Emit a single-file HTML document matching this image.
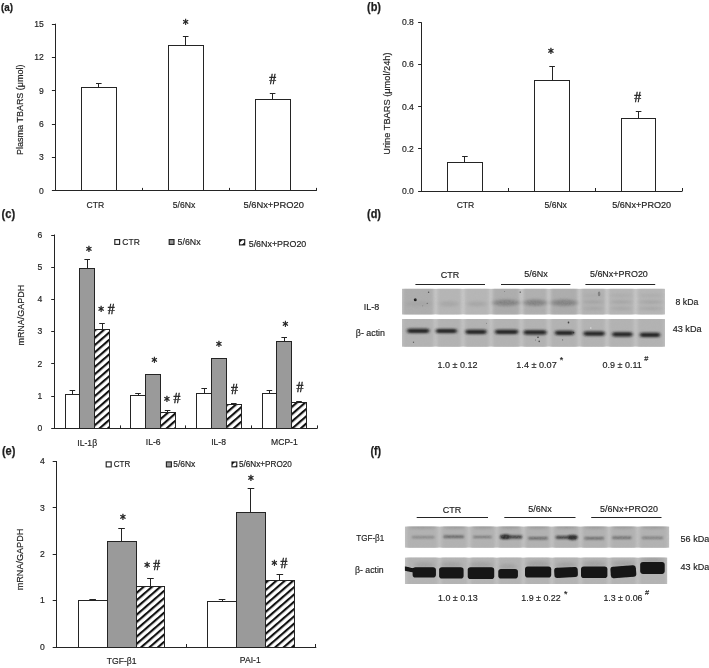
<!DOCTYPE html>
<html lang="en"><head><meta charset="utf-8"><title>Figure</title>
<style>
html,body{margin:0;padding:0;background:#fff;}
body{width:709px;height:668px;overflow:hidden;}
svg{display:block;opacity:0.999;}
svg text{font-family:"Liberation Sans", sans-serif;fill:#1e1e1e;}
</style></head><body>
<svg width="709" height="668" viewBox="0 0 709 668">
<defs>
<pattern id="hatch" width="5.5" height="5.5" patternUnits="userSpaceOnUse" patternTransform="translate(0 3.4) rotate(-41)"><rect width="5.5" height="5.5" fill="#fff"/><line x1="0" y1="1" x2="5.5" y2="1" stroke="#111" stroke-width="2.3"/></pattern>
<filter id="b04" x="-20%" y="-60%" width="140%" height="220%"><feGaussianBlur stdDeviation="0.4"/></filter>
<filter id="b07" x="-5%" y="-60%" width="110%" height="220%"><feGaussianBlur stdDeviation="0.7"/></filter>
<filter id="b09" x="-5%" y="-60%" width="110%" height="220%"><feGaussianBlur stdDeviation="1.1 0.85"/></filter>
<filter id="b09d" x="-5%" y="-60%" width="110%" height="220%"><feGaussianBlur stdDeviation="1.5 0.8"/></filter>
<filter id="b15" x="-5%" y="-60%" width="110%" height="220%"><feGaussianBlur stdDeviation="1.5"/></filter>
<filter id="b20" x="-5%" y="-60%" width="110%" height="220%"><feGaussianBlur stdDeviation="2.2 1.6"/></filter>
<filter id="grain" x="0" y="0" width="100%" height="100%"><feTurbulence type="fractalNoise" baseFrequency="0.55" numOctaves="2" seed="7" result="n"/><feColorMatrix type="matrix" values="0 0 0 0 0.45  0 0 0 0 0.45  0 0 0 0 0.45  0.9 0.9 0.9 0 -0.85"/></filter>
</defs>
<rect width="709" height="668" fill="#fff"/>
<text x="1.00" y="10.60" font-size="11.12" text-anchor="start" font-weight="bold" textLength="12.00" lengthAdjust="spacingAndGlyphs" stroke="#1e1e1e" stroke-width="0.25">(a)</text>
<line x1="55.50" y1="23.70" x2="55.50" y2="190.90" stroke="#242424" stroke-width="1.0"/>
<line x1="54.80" y1="190.50" x2="316.50" y2="190.50" stroke="#242424" stroke-width="1.0"/>
<line x1="51.90" y1="24.50" x2="55.30" y2="24.50" stroke="#242424" stroke-width="1.0"/>
<text x="43.90" y="26.83" font-size="9.29" text-anchor="end" textLength="9.57" lengthAdjust="spacingAndGlyphs" stroke="#1e1e1e" stroke-width="0.18">15</text>
<line x1="51.90" y1="57.50" x2="55.30" y2="57.50" stroke="#242424" stroke-width="1.0"/>
<text x="43.90" y="60.17" font-size="9.29" text-anchor="end" textLength="9.57" lengthAdjust="spacingAndGlyphs" stroke="#1e1e1e" stroke-width="0.18">12</text>
<line x1="51.90" y1="90.50" x2="55.30" y2="90.50" stroke="#242424" stroke-width="1.0"/>
<text x="43.90" y="93.51" font-size="9.29" text-anchor="end" textLength="4.78" lengthAdjust="spacingAndGlyphs" stroke="#1e1e1e" stroke-width="0.18">9</text>
<line x1="51.90" y1="124.50" x2="55.30" y2="124.50" stroke="#242424" stroke-width="1.0"/>
<text x="43.90" y="126.85" font-size="9.29" text-anchor="end" textLength="4.78" lengthAdjust="spacingAndGlyphs" stroke="#1e1e1e" stroke-width="0.18">6</text>
<line x1="51.90" y1="157.50" x2="55.30" y2="157.50" stroke="#242424" stroke-width="1.0"/>
<text x="43.90" y="160.19" font-size="9.29" text-anchor="end" textLength="4.78" lengthAdjust="spacingAndGlyphs" stroke="#1e1e1e" stroke-width="0.18">3</text>
<line x1="51.90" y1="190.50" x2="55.30" y2="190.50" stroke="#242424" stroke-width="1.0"/>
<text x="43.90" y="193.53" font-size="9.29" text-anchor="end" textLength="4.78" lengthAdjust="spacingAndGlyphs" stroke="#1e1e1e" stroke-width="0.18">0</text>
<line x1="142.50" y1="187.90" x2="142.50" y2="190.90" stroke="#242424" stroke-width="1.0"/>
<line x1="229.50" y1="187.90" x2="229.50" y2="190.90" stroke="#242424" stroke-width="1.0"/>
<line x1="316.50" y1="187.90" x2="316.50" y2="190.90" stroke="#242424" stroke-width="1.0"/>
<rect x="81.50" y="87.50" width="35.00" height="103.00" fill="#fff" stroke="#242424" stroke-width="1"/>
<line x1="98.50" y1="83.30" x2="98.50" y2="87.80" stroke="#242424" stroke-width="1.0"/>
<line x1="96.00" y1="83.50" x2="101.60" y2="83.50" stroke="#242424" stroke-width="1.0"/>
<rect x="168.50" y="45.50" width="35.00" height="145.00" fill="#fff" stroke="#242424" stroke-width="1"/>
<line x1="185.50" y1="36.70" x2="185.50" y2="45.80" stroke="#242424" stroke-width="1.0"/>
<line x1="182.90" y1="36.50" x2="188.50" y2="36.50" stroke="#242424" stroke-width="1.0"/>
<rect x="255.50" y="99.50" width="35.00" height="91.00" fill="#fff" stroke="#242424" stroke-width="1"/>
<line x1="272.50" y1="93.80" x2="272.50" y2="99.60" stroke="#242424" stroke-width="1.0"/>
<line x1="269.80" y1="93.50" x2="275.40" y2="93.50" stroke="#242424" stroke-width="1.0"/>
<text x="185.60" y="28.22" font-size="11.60" text-anchor="middle" style='font-family:"DejaVu Sans", sans-serif' stroke="#1e1e1e" stroke-width="0.45">*</text>
<text x="272.60" y="84.48" font-size="13.80" text-anchor="middle" style='font-family:"Liberation Serif", serif' stroke="#1e1e1e" stroke-width="0.4">#</text>
<text x="95.30" y="208.23" font-size="9.29" text-anchor="middle" textLength="17.68" lengthAdjust="spacingAndGlyphs" stroke="#1e1e1e" stroke-width="0.18">CTR</text>
<text x="184.00" y="208.23" font-size="9.29" text-anchor="middle" textLength="22.47" lengthAdjust="spacingAndGlyphs" stroke="#1e1e1e" stroke-width="0.18">5/6Nx</text>
<text x="273.70" y="208.23" font-size="9.29" text-anchor="middle" textLength="60.50" lengthAdjust="spacingAndGlyphs" stroke="#1e1e1e" stroke-width="0.18">5/6Nx+PRO20</text>
<text x="19.60" y="109.70" font-size="8.96" text-anchor="middle" textLength="90.40" lengthAdjust="spacingAndGlyphs" transform="rotate(-90 19.60 109.70)" dy="3" stroke="#1e1e1e" stroke-width="0.18">Plasma TBARS (μmol)</text>
<text x="367.00" y="10.60" font-size="11.88" text-anchor="start" font-weight="bold" textLength="14.00" lengthAdjust="spacingAndGlyphs" stroke="#1e1e1e" stroke-width="0.25">(b)</text>
<line x1="421.50" y1="22.30" x2="421.50" y2="191.00" stroke="#242424" stroke-width="1.0"/>
<line x1="421.00" y1="191.50" x2="682.50" y2="191.50" stroke="#242424" stroke-width="1.0"/>
<line x1="418.10" y1="22.50" x2="421.50" y2="22.50" stroke="#242424" stroke-width="1.0"/>
<text x="413.90" y="25.43" font-size="9.29" text-anchor="end" textLength="11.96" lengthAdjust="spacingAndGlyphs" stroke="#1e1e1e" stroke-width="0.18">0.8</text>
<line x1="418.10" y1="64.50" x2="421.50" y2="64.50" stroke="#242424" stroke-width="1.0"/>
<text x="413.90" y="67.48" font-size="9.29" text-anchor="end" textLength="11.96" lengthAdjust="spacingAndGlyphs" stroke="#1e1e1e" stroke-width="0.18">0.6</text>
<line x1="418.10" y1="106.50" x2="421.50" y2="106.50" stroke="#242424" stroke-width="1.0"/>
<text x="413.90" y="109.53" font-size="9.29" text-anchor="end" textLength="11.96" lengthAdjust="spacingAndGlyphs" stroke="#1e1e1e" stroke-width="0.18">0.4</text>
<line x1="418.10" y1="148.50" x2="421.50" y2="148.50" stroke="#242424" stroke-width="1.0"/>
<text x="413.90" y="151.58" font-size="9.29" text-anchor="end" textLength="11.96" lengthAdjust="spacingAndGlyphs" stroke="#1e1e1e" stroke-width="0.18">0.2</text>
<line x1="418.10" y1="191.50" x2="421.50" y2="191.50" stroke="#242424" stroke-width="1.0"/>
<text x="413.90" y="193.63" font-size="9.29" text-anchor="end" textLength="11.96" lengthAdjust="spacingAndGlyphs" stroke="#1e1e1e" stroke-width="0.18">0.0</text>
<line x1="508.50" y1="188.00" x2="508.50" y2="191.00" stroke="#242424" stroke-width="1.0"/>
<line x1="595.50" y1="188.00" x2="595.50" y2="191.00" stroke="#242424" stroke-width="1.0"/>
<line x1="682.50" y1="188.00" x2="682.50" y2="191.00" stroke="#242424" stroke-width="1.0"/>
<rect x="447.50" y="162.50" width="35.00" height="29.00" fill="#fff" stroke="#242424" stroke-width="1"/>
<line x1="464.50" y1="156.90" x2="464.50" y2="162.50" stroke="#242424" stroke-width="1.0"/>
<line x1="462.10" y1="156.50" x2="467.70" y2="156.50" stroke="#242424" stroke-width="1.0"/>
<rect x="534.50" y="80.50" width="35.00" height="111.00" fill="#fff" stroke="#242424" stroke-width="1"/>
<line x1="552.50" y1="66.40" x2="552.50" y2="80.20" stroke="#242424" stroke-width="1.0"/>
<line x1="549.30" y1="66.50" x2="554.90" y2="66.50" stroke="#242424" stroke-width="1.0"/>
<rect x="621.50" y="118.50" width="34.00" height="73.00" fill="#fff" stroke="#242424" stroke-width="1"/>
<line x1="638.50" y1="111.50" x2="638.50" y2="118.40" stroke="#242424" stroke-width="1.0"/>
<line x1="635.80" y1="111.50" x2="641.40" y2="111.50" stroke="#242424" stroke-width="1.0"/>
<text x="551.00" y="57.22" font-size="11.60" text-anchor="middle" style='font-family:"DejaVu Sans", sans-serif' stroke="#1e1e1e" stroke-width="0.45">*</text>
<text x="637.80" y="102.39" font-size="13.80" text-anchor="middle" style='font-family:"Liberation Serif", serif' stroke="#1e1e1e" stroke-width="0.4">#</text>
<text x="465.50" y="208.23" font-size="9.29" text-anchor="middle" textLength="17.68" lengthAdjust="spacingAndGlyphs" stroke="#1e1e1e" stroke-width="0.18">CTR</text>
<text x="555.70" y="208.23" font-size="9.29" text-anchor="middle" textLength="22.47" lengthAdjust="spacingAndGlyphs" stroke="#1e1e1e" stroke-width="0.18">5/6Nx</text>
<text x="641.70" y="208.23" font-size="9.29" text-anchor="middle" textLength="59.00" lengthAdjust="spacingAndGlyphs" stroke="#1e1e1e" stroke-width="0.18">5/6Nx+PRO20</text>
<text x="387.00" y="103.60" font-size="9.29" text-anchor="middle" textLength="102.40" lengthAdjust="spacingAndGlyphs" transform="rotate(-90 387.00 103.60)" dy="3" stroke="#1e1e1e" stroke-width="0.18">Urine TBARS (μmol/24h)</text>
<text x="1.60" y="218.20" font-size="11.88" text-anchor="start" font-weight="bold" textLength="13.70" lengthAdjust="spacingAndGlyphs" stroke="#1e1e1e" stroke-width="0.25">(c)</text>
<line x1="54.50" y1="234.50" x2="54.50" y2="428.40" stroke="#242424" stroke-width="1.0"/>
<line x1="54.10" y1="428.50" x2="317.50" y2="428.50" stroke="#242424" stroke-width="1.0"/>
<line x1="51.20" y1="235.50" x2="54.60" y2="235.50" stroke="#242424" stroke-width="1.0"/>
<text x="42.40" y="237.63" font-size="9.29" text-anchor="end" textLength="4.78" lengthAdjust="spacingAndGlyphs" stroke="#1e1e1e" stroke-width="0.18">6</text>
<line x1="51.20" y1="267.50" x2="54.60" y2="267.50" stroke="#242424" stroke-width="1.0"/>
<text x="42.40" y="269.86" font-size="9.29" text-anchor="end" textLength="4.78" lengthAdjust="spacingAndGlyphs" stroke="#1e1e1e" stroke-width="0.18">5</text>
<line x1="51.20" y1="299.50" x2="54.60" y2="299.50" stroke="#242424" stroke-width="1.0"/>
<text x="42.40" y="302.09" font-size="9.29" text-anchor="end" textLength="4.78" lengthAdjust="spacingAndGlyphs" stroke="#1e1e1e" stroke-width="0.18">4</text>
<line x1="51.20" y1="331.50" x2="54.60" y2="331.50" stroke="#242424" stroke-width="1.0"/>
<text x="42.40" y="334.33" font-size="9.29" text-anchor="end" textLength="4.78" lengthAdjust="spacingAndGlyphs" stroke="#1e1e1e" stroke-width="0.18">3</text>
<line x1="51.20" y1="363.50" x2="54.60" y2="363.50" stroke="#242424" stroke-width="1.0"/>
<text x="42.40" y="366.56" font-size="9.29" text-anchor="end" textLength="4.78" lengthAdjust="spacingAndGlyphs" stroke="#1e1e1e" stroke-width="0.18">2</text>
<line x1="51.20" y1="396.50" x2="54.60" y2="396.50" stroke="#242424" stroke-width="1.0"/>
<text x="42.40" y="398.79" font-size="9.29" text-anchor="end" textLength="4.78" lengthAdjust="spacingAndGlyphs" stroke="#1e1e1e" stroke-width="0.18">1</text>
<line x1="51.20" y1="428.50" x2="54.60" y2="428.50" stroke="#242424" stroke-width="1.0"/>
<text x="42.40" y="431.03" font-size="9.29" text-anchor="end" textLength="4.78" lengthAdjust="spacingAndGlyphs" stroke="#1e1e1e" stroke-width="0.18">0</text>
<line x1="120.50" y1="425.40" x2="120.50" y2="428.40" stroke="#242424" stroke-width="1.0"/>
<line x1="185.50" y1="425.40" x2="185.50" y2="428.40" stroke="#242424" stroke-width="1.0"/>
<line x1="251.50" y1="425.40" x2="251.50" y2="428.40" stroke="#242424" stroke-width="1.0"/>
<line x1="317.50" y1="425.40" x2="317.50" y2="428.40" stroke="#242424" stroke-width="1.0"/>
<rect x="65.50" y="394.50" width="14.00" height="34.00" fill="#fff" stroke="#242424" stroke-width="1"/>
<line x1="72.50" y1="390.50" x2="72.50" y2="394.00" stroke="#242424" stroke-width="1.0"/>
<line x1="69.60" y1="390.50" x2="75.20" y2="390.50" stroke="#242424" stroke-width="1.0"/>
<rect x="79.50" y="268.50" width="15.00" height="160.00" fill="#9a9a9a" stroke="#242424" stroke-width="1"/>
<line x1="87.50" y1="259.00" x2="87.50" y2="268.60" stroke="#242424" stroke-width="1.0"/>
<line x1="84.40" y1="259.50" x2="90.00" y2="259.50" stroke="#242424" stroke-width="1.0"/>
<rect x="94.50" y="329.50" width="15.00" height="99.00" fill="url(#hatch)" stroke="#242424" stroke-width="1"/>
<line x1="102.50" y1="323.70" x2="102.50" y2="329.20" stroke="#242424" stroke-width="1.0"/>
<line x1="99.20" y1="323.50" x2="104.80" y2="323.50" stroke="#242424" stroke-width="1.0"/>
<rect x="130.50" y="395.50" width="15.00" height="33.00" fill="#fff" stroke="#242424" stroke-width="1"/>
<line x1="138.50" y1="393.80" x2="138.50" y2="395.60" stroke="#242424" stroke-width="1.0"/>
<line x1="135.20" y1="393.50" x2="140.80" y2="393.50" stroke="#242424" stroke-width="1.0"/>
<rect x="145.50" y="374.50" width="15.00" height="54.00" fill="#9a9a9a" stroke="#242424" stroke-width="1"/>
<line x1="152.50" y1="374.00" x2="152.50" y2="374.80" stroke="#242424" stroke-width="1.0"/>
<line x1="150.00" y1="374.50" x2="155.60" y2="374.50" stroke="#242424" stroke-width="1.0"/>
<rect x="160.50" y="412.50" width="15.00" height="16.00" fill="url(#hatch)" stroke="#242424" stroke-width="1"/>
<line x1="167.50" y1="410.50" x2="167.50" y2="412.30" stroke="#242424" stroke-width="1.0"/>
<line x1="164.80" y1="410.50" x2="170.40" y2="410.50" stroke="#242424" stroke-width="1.0"/>
<rect x="196.50" y="393.50" width="15.00" height="35.00" fill="#fff" stroke="#242424" stroke-width="1"/>
<line x1="204.50" y1="388.50" x2="204.50" y2="393.00" stroke="#242424" stroke-width="1.0"/>
<line x1="201.40" y1="388.50" x2="207.00" y2="388.50" stroke="#242424" stroke-width="1.0"/>
<rect x="211.50" y="358.50" width="15.00" height="70.00" fill="#9a9a9a" stroke="#242424" stroke-width="1"/>
<line x1="219.50" y1="358.00" x2="219.50" y2="358.30" stroke="#242424" stroke-width="1.0"/>
<line x1="216.20" y1="358.50" x2="221.80" y2="358.50" stroke="#242424" stroke-width="1.0"/>
<rect x="226.50" y="404.50" width="15.00" height="24.00" fill="url(#hatch)" stroke="#242424" stroke-width="1"/>
<line x1="233.50" y1="403.20" x2="233.50" y2="404.20" stroke="#242424" stroke-width="1.0"/>
<line x1="231.00" y1="403.50" x2="236.60" y2="403.50" stroke="#242424" stroke-width="1.0"/>
<rect x="262.50" y="393.50" width="14.00" height="35.00" fill="#fff" stroke="#242424" stroke-width="1"/>
<line x1="269.50" y1="390.00" x2="269.50" y2="393.30" stroke="#242424" stroke-width="1.0"/>
<line x1="266.60" y1="390.50" x2="272.20" y2="390.50" stroke="#242424" stroke-width="1.0"/>
<rect x="276.50" y="341.50" width="15.00" height="87.00" fill="#9a9a9a" stroke="#242424" stroke-width="1"/>
<line x1="284.50" y1="337.40" x2="284.50" y2="341.00" stroke="#242424" stroke-width="1.0"/>
<line x1="281.40" y1="337.50" x2="287.00" y2="337.50" stroke="#242424" stroke-width="1.0"/>
<rect x="291.50" y="402.50" width="15.00" height="26.00" fill="url(#hatch)" stroke="#242424" stroke-width="1"/>
<line x1="299.50" y1="401.20" x2="299.50" y2="402.20" stroke="#242424" stroke-width="1.0"/>
<line x1="296.20" y1="401.50" x2="301.80" y2="401.50" stroke="#242424" stroke-width="1.0"/>
<text x="89.00" y="254.92" font-size="11.60" text-anchor="middle" style='font-family:"DejaVu Sans", sans-serif' stroke="#1e1e1e" stroke-width="0.45">*</text>
<text x="101.20" y="315.42" font-size="11.60" text-anchor="middle" style='font-family:"DejaVu Sans", sans-serif' stroke="#1e1e1e" stroke-width="0.45">*</text>
<text x="111.10" y="314.29" font-size="13.80" text-anchor="middle" style='font-family:"Liberation Serif", serif' stroke="#1e1e1e" stroke-width="0.4">#</text>
<text x="154.40" y="365.62" font-size="11.60" text-anchor="middle" style='font-family:"DejaVu Sans", sans-serif' stroke="#1e1e1e" stroke-width="0.45">*</text>
<text x="166.80" y="404.62" font-size="11.60" text-anchor="middle" style='font-family:"DejaVu Sans", sans-serif' stroke="#1e1e1e" stroke-width="0.45">*</text>
<text x="177.00" y="403.49" font-size="13.80" text-anchor="middle" style='font-family:"Liberation Serif", serif' stroke="#1e1e1e" stroke-width="0.4">#</text>
<text x="219.00" y="350.42" font-size="11.60" text-anchor="middle" style='font-family:"DejaVu Sans", sans-serif' stroke="#1e1e1e" stroke-width="0.45">*</text>
<text x="234.50" y="394.19" font-size="13.80" text-anchor="middle" style='font-family:"Liberation Serif", serif' stroke="#1e1e1e" stroke-width="0.4">#</text>
<text x="285.50" y="329.82" font-size="11.60" text-anchor="middle" style='font-family:"DejaVu Sans", sans-serif' stroke="#1e1e1e" stroke-width="0.45">*</text>
<text x="300.00" y="392.49" font-size="13.80" text-anchor="middle" style='font-family:"Liberation Serif", serif' stroke="#1e1e1e" stroke-width="0.4">#</text>
<text x="87.20" y="445.93" font-size="9.29" text-anchor="middle" textLength="19.77" lengthAdjust="spacingAndGlyphs" stroke="#1e1e1e" stroke-width="0.18">IL-1β</text>
<text x="153.20" y="444.93" font-size="9.29" text-anchor="middle" textLength="14.82" lengthAdjust="spacingAndGlyphs" stroke="#1e1e1e" stroke-width="0.18">IL-6</text>
<text x="218.60" y="445.13" font-size="9.29" text-anchor="middle" textLength="14.82" lengthAdjust="spacingAndGlyphs" stroke="#1e1e1e" stroke-width="0.18">IL-8</text>
<text x="284.40" y="445.13" font-size="9.29" text-anchor="middle" textLength="26.76" lengthAdjust="spacingAndGlyphs" stroke="#1e1e1e" stroke-width="0.18">MCP-1</text>
<rect x="114.80" y="239.60" width="4.8" height="4.8" fill="#fff" stroke="#242424" stroke-width="1.15"/>
<text x="122.30" y="245.23" font-size="9.29" text-anchor="start" textLength="17.50" lengthAdjust="spacingAndGlyphs" stroke="#1e1e1e" stroke-width="0.18">CTR</text>
<rect x="169.20" y="239.60" width="4.8" height="4.8" fill="#9a9a9a" stroke="#242424" stroke-width="1.15"/>
<text x="177.60" y="245.13" font-size="9.29" text-anchor="start" textLength="23.00" lengthAdjust="spacingAndGlyphs" stroke="#1e1e1e" stroke-width="0.18">5/6Nx</text>
<rect x="239.50" y="239.70" width="5.2" height="5.2" fill="#fff" stroke="#242424" stroke-width="1.15"/>
<path d="M239.50 239.70h3.12L239.50 242.82Z M244.70 244.90h-2.86L244.70 242.04Z" fill="#111"/>
<text x="248.70" y="246.63" font-size="9.29" text-anchor="start" textLength="57.60" lengthAdjust="spacingAndGlyphs" stroke="#1e1e1e" stroke-width="0.18">5/6Nx+PRO20</text>
<text x="21.00" y="315.20" font-size="8.96" text-anchor="middle" textLength="60.80" lengthAdjust="spacingAndGlyphs" transform="rotate(-90 21.00 315.20)" dy="3" stroke="#1e1e1e" stroke-width="0.18">mRNA/GAPDH</text>
<text x="1.90" y="455.30" font-size="11.88" text-anchor="start" font-weight="bold" textLength="13.50" lengthAdjust="spacingAndGlyphs" stroke="#1e1e1e" stroke-width="0.25">(e)</text>
<line x1="56.50" y1="461.00" x2="56.50" y2="647.00" stroke="#242424" stroke-width="1.0"/>
<line x1="55.60" y1="647.50" x2="316.30" y2="647.50" stroke="#242424" stroke-width="1.0"/>
<line x1="52.70" y1="461.50" x2="56.10" y2="461.50" stroke="#242424" stroke-width="1.0"/>
<text x="44.70" y="464.13" font-size="9.29" text-anchor="end" textLength="4.78" lengthAdjust="spacingAndGlyphs" stroke="#1e1e1e" stroke-width="0.18">4</text>
<line x1="52.70" y1="507.50" x2="56.10" y2="507.50" stroke="#242424" stroke-width="1.0"/>
<text x="44.70" y="510.50" font-size="9.29" text-anchor="end" textLength="4.78" lengthAdjust="spacingAndGlyphs" stroke="#1e1e1e" stroke-width="0.18">3</text>
<line x1="52.70" y1="554.50" x2="56.10" y2="554.50" stroke="#242424" stroke-width="1.0"/>
<text x="44.70" y="556.88" font-size="9.29" text-anchor="end" textLength="4.78" lengthAdjust="spacingAndGlyphs" stroke="#1e1e1e" stroke-width="0.18">2</text>
<line x1="52.70" y1="600.50" x2="56.10" y2="600.50" stroke="#242424" stroke-width="1.0"/>
<text x="44.70" y="603.25" font-size="9.29" text-anchor="end" textLength="4.78" lengthAdjust="spacingAndGlyphs" stroke="#1e1e1e" stroke-width="0.18">1</text>
<line x1="52.70" y1="647.50" x2="56.10" y2="647.50" stroke="#242424" stroke-width="1.0"/>
<text x="44.70" y="649.63" font-size="9.29" text-anchor="end" textLength="4.78" lengthAdjust="spacingAndGlyphs" stroke="#1e1e1e" stroke-width="0.18">0</text>
<line x1="186.50" y1="644.00" x2="186.50" y2="647.00" stroke="#242424" stroke-width="1.0"/>
<line x1="315.50" y1="644.00" x2="315.50" y2="647.00" stroke="#242424" stroke-width="1.0"/>
<rect x="78.50" y="600.50" width="29.00" height="47.00" fill="#fff" stroke="#242424" stroke-width="1"/>
<line x1="92.50" y1="599.00" x2="92.50" y2="600.50" stroke="#242424" stroke-width="1.0"/>
<line x1="89.35" y1="599.50" x2="95.95" y2="599.50" stroke="#242424" stroke-width="1.0"/>
<rect x="107.50" y="541.50" width="29.00" height="106.00" fill="#9a9a9a" stroke="#242424" stroke-width="1"/>
<line x1="121.50" y1="528.30" x2="121.50" y2="541.50" stroke="#242424" stroke-width="1.0"/>
<line x1="118.25" y1="528.50" x2="124.85" y2="528.50" stroke="#242424" stroke-width="1.0"/>
<rect x="136.50" y="586.50" width="28.00" height="61.00" fill="url(#hatch)" stroke="#242424" stroke-width="1"/>
<line x1="150.50" y1="578.50" x2="150.50" y2="586.30" stroke="#242424" stroke-width="1.0"/>
<line x1="147.15" y1="578.50" x2="153.75" y2="578.50" stroke="#242424" stroke-width="1.0"/>
<rect x="207.50" y="601.50" width="29.00" height="46.00" fill="#fff" stroke="#242424" stroke-width="1"/>
<line x1="222.50" y1="599.30" x2="222.50" y2="601.00" stroke="#242424" stroke-width="1.0"/>
<line x1="218.75" y1="599.50" x2="225.35" y2="599.50" stroke="#242424" stroke-width="1.0"/>
<rect x="236.50" y="512.50" width="29.00" height="135.00" fill="#9a9a9a" stroke="#242424" stroke-width="1"/>
<line x1="250.50" y1="488.70" x2="250.50" y2="512.00" stroke="#242424" stroke-width="1.0"/>
<line x1="247.65" y1="488.50" x2="254.25" y2="488.50" stroke="#242424" stroke-width="1.0"/>
<rect x="265.50" y="580.50" width="29.00" height="67.00" fill="url(#hatch)" stroke="#242424" stroke-width="1"/>
<line x1="279.50" y1="574.40" x2="279.50" y2="580.50" stroke="#242424" stroke-width="1.0"/>
<line x1="276.55" y1="574.50" x2="283.15" y2="574.50" stroke="#242424" stroke-width="1.0"/>
<text x="122.90" y="523.22" font-size="11.60" text-anchor="middle" style='font-family:"DejaVu Sans", sans-serif' stroke="#1e1e1e" stroke-width="0.45">*</text>
<text x="147.20" y="571.42" font-size="11.60" text-anchor="middle" style='font-family:"DejaVu Sans", sans-serif' stroke="#1e1e1e" stroke-width="0.45">*</text>
<text x="156.60" y="570.28" font-size="13.80" text-anchor="middle" style='font-family:"Liberation Serif", serif' stroke="#1e1e1e" stroke-width="0.4">#</text>
<text x="251.00" y="484.12" font-size="11.60" text-anchor="middle" style='font-family:"DejaVu Sans", sans-serif' stroke="#1e1e1e" stroke-width="0.45">*</text>
<text x="274.30" y="568.82" font-size="11.60" text-anchor="middle" style='font-family:"DejaVu Sans", sans-serif' stroke="#1e1e1e" stroke-width="0.45">*</text>
<text x="284.00" y="567.69" font-size="13.80" text-anchor="middle" style='font-family:"Liberation Serif", serif' stroke="#1e1e1e" stroke-width="0.4">#</text>
<text x="121.60" y="664.33" font-size="9.29" text-anchor="middle" textLength="29.79" lengthAdjust="spacingAndGlyphs" stroke="#1e1e1e" stroke-width="0.18">TGF-β1</text>
<text x="250.30" y="663.33" font-size="9.29" text-anchor="middle" textLength="20.87" lengthAdjust="spacingAndGlyphs" stroke="#1e1e1e" stroke-width="0.18">PAI-1</text>
<rect x="106.20" y="461.90" width="5.0" height="5.0" fill="#fff" stroke="#242424" stroke-width="1.15"/>
<text x="113.70" y="467.39" font-size="8.64" text-anchor="start" textLength="16.50" lengthAdjust="spacingAndGlyphs" stroke="#1e1e1e" stroke-width="0.18">CTR</text>
<rect x="166.40" y="461.90" width="5.0" height="5.0" fill="#9a9a9a" stroke="#242424" stroke-width="1.15"/>
<text x="173.30" y="467.19" font-size="8.64" text-anchor="start" textLength="22.00" lengthAdjust="spacingAndGlyphs" stroke="#1e1e1e" stroke-width="0.18">5/6Nx</text>
<rect x="232.00" y="462.00" width="4.8" height="4.8" fill="#fff" stroke="#242424" stroke-width="1.15"/>
<path d="M232.00 462.00h2.98L232.00 464.98Z M236.80 466.80h-2.16L236.80 464.64Z" fill="#111"/>
<text x="239.00" y="467.19" font-size="8.64" text-anchor="start" textLength="52.90" lengthAdjust="spacingAndGlyphs" stroke="#1e1e1e" stroke-width="0.18">5/6Nx+PRO20</text>
<text x="20.20" y="559.50" font-size="8.96" text-anchor="middle" textLength="61.60" lengthAdjust="spacingAndGlyphs" transform="rotate(-90 20.20 559.50)" dy="3" stroke="#1e1e1e" stroke-width="0.18">mRNA/GAPDH</text>
<text x="367.00" y="218.20" font-size="11.88" text-anchor="start" font-weight="bold" textLength="14.00" lengthAdjust="spacingAndGlyphs" stroke="#1e1e1e" stroke-width="0.25">(d)</text>
<text x="450.00" y="277.98" font-size="9.72" text-anchor="middle" textLength="18.50" lengthAdjust="spacingAndGlyphs" stroke="#1e1e1e" stroke-width="0.18">CTR</text>
<text x="536.00" y="276.68" font-size="9.72" text-anchor="middle" textLength="23.51" lengthAdjust="spacingAndGlyphs" stroke="#1e1e1e" stroke-width="0.18">5/6Nx</text>
<text x="618.90" y="276.68" font-size="9.72" text-anchor="middle" textLength="57.90" lengthAdjust="spacingAndGlyphs" stroke="#1e1e1e" stroke-width="0.18">5/6Nx+PRO20</text>
<line x1="415.40" y1="284.50" x2="485.00" y2="284.50" stroke="#242424" stroke-width="1.1"/>
<line x1="501.00" y1="284.50" x2="570.40" y2="284.50" stroke="#242424" stroke-width="1.1"/>
<line x1="585.40" y1="284.50" x2="655.20" y2="284.50" stroke="#242424" stroke-width="1.1"/>
<clipPath id="cpd1"><rect x="402" y="288.8" width="263.00" height="25.80"/></clipPath>
<g clip-path="url(#cpd1)"><rect x="402" y="288.8" width="263.00" height="25.80" fill="#c9c9c9"/>
<g filter="url(#b15)"><rect x="403.0" y="285.8" width="30.5" height="31.8" rx="0" fill="#adadad" opacity="1"/><rect x="437.5" y="285.8" width="23.5" height="31.8" rx="0" fill="#b6b6b6" opacity="1"/><rect x="465.0" y="285.8" width="24.0" height="31.8" rx="0" fill="#b7b7b7" opacity="1"/><rect x="492.8" y="285.8" width="26.6" height="31.8" rx="0" fill="#adadad" opacity="1"/><rect x="523.4" y="285.8" width="23.4" height="31.8" rx="0" fill="#b0b0b0" opacity="1"/><rect x="550.8" y="285.8" width="26.6" height="31.8" rx="0" fill="#adadad" opacity="1"/><rect x="581.4" y="285.8" width="23.6" height="31.8" rx="0" fill="#b3b3b3" opacity="1"/><rect x="609.0" y="285.8" width="24.6" height="31.8" rx="0" fill="#b6b6b6" opacity="1"/><rect x="637.6" y="285.8" width="26.4" height="31.8" rx="0" fill="#b7b7b7" opacity="1"/></g>
<g filter="url(#b20)"><ellipse cx="418.2" cy="303.8" rx="13.2" ry="2.6" fill="#a2a2a2" opacity="0.8"/><ellipse cx="449.2" cy="303.8" rx="9.8" ry="2.6" fill="#a2a2a2" opacity="0.8"/><ellipse cx="477.0" cy="303.8" rx="10.0" ry="2.6" fill="#a2a2a2" opacity="0.8"/><ellipse cx="506.1" cy="302.8" rx="13.3" ry="3.2" fill="#7c7c7c" opacity="0.95"/><ellipse cx="506.1" cy="310.5" rx="12.3" ry="1.6" fill="#a8a8a8" opacity="0.6"/><ellipse cx="535.1" cy="302.8" rx="11.7" ry="3.2" fill="#7c7c7c" opacity="0.95"/><ellipse cx="535.1" cy="310.5" rx="10.7" ry="1.6" fill="#a8a8a8" opacity="0.6"/><ellipse cx="564.1" cy="302.8" rx="13.3" ry="3.2" fill="#7c7c7c" opacity="0.95"/><ellipse cx="564.1" cy="310.5" rx="12.3" ry="1.6" fill="#a8a8a8" opacity="0.6"/><ellipse cx="593.2" cy="302.0" rx="10.8" ry="1.5" fill="#9a9a9a" opacity="0.8"/><ellipse cx="593.2" cy="308.5" rx="10.8" ry="1.5" fill="#9e9e9e" opacity="0.75"/><ellipse cx="593.2" cy="295.5" rx="10.8" ry="1.6" fill="#a6a6a6" opacity="0.7"/><ellipse cx="621.3" cy="302.0" rx="11.3" ry="1.5" fill="#9a9a9a" opacity="0.8"/><ellipse cx="621.3" cy="308.5" rx="11.3" ry="1.5" fill="#9e9e9e" opacity="0.75"/><ellipse cx="621.3" cy="295.5" rx="11.3" ry="1.6" fill="#a6a6a6" opacity="0.7"/><ellipse cx="650.8" cy="302.0" rx="12.2" ry="1.5" fill="#9a9a9a" opacity="0.8"/><ellipse cx="650.8" cy="308.5" rx="12.2" ry="1.5" fill="#9e9e9e" opacity="0.75"/><ellipse cx="650.8" cy="295.5" rx="12.2" ry="1.6" fill="#a6a6a6" opacity="0.7"/></g>
<g filter="url(#b04)"><ellipse cx="415.3" cy="299.8" rx="1.5" ry="1.5" fill="#1c1c1c" opacity="1"/><ellipse cx="428.6" cy="292.3" rx="0.7" ry="0.7" fill="#444" opacity="1"/><ellipse cx="427.2" cy="303.3" rx="0.6" ry="0.6" fill="#555" opacity="1"/><ellipse cx="422.7" cy="305.7" rx="0.5" ry="0.5" fill="#777" opacity="1"/><ellipse cx="599.1" cy="293.9" rx="1.3" ry="2.4" fill="#7c7c7c" opacity="1"/><ellipse cx="520.2" cy="292.2" rx="0.6" ry="0.9" fill="#555" opacity="1"/><ellipse cx="504.6" cy="291.6" rx="0.5" ry="0.5" fill="#777" opacity="1"/></g>
<rect x="402" y="288.8" width="263.00" height="25.80" filter="url(#grain)" opacity="0.22"/>
</g>
<clipPath id="cpd2"><rect x="402" y="319.1" width="263.00" height="27.60"/></clipPath>
<g clip-path="url(#cpd2)"><rect x="402" y="319.1" width="263.00" height="27.60" fill="#c4c4c4"/>
<g filter="url(#b15)"><rect x="403.0" y="316.1" width="30.5" height="33.6" rx="0" fill="#b3b3b3" opacity="1"/><rect x="437.5" y="316.1" width="23.5" height="33.6" rx="0" fill="#b3b3b3" opacity="1"/><rect x="465.0" y="316.1" width="24.0" height="33.6" rx="0" fill="#b3b3b3" opacity="1"/><rect x="492.8" y="316.1" width="26.6" height="33.6" rx="0" fill="#b3b3b3" opacity="1"/><rect x="523.4" y="316.1" width="23.4" height="33.6" rx="0" fill="#b3b3b3" opacity="1"/><rect x="550.8" y="316.1" width="26.6" height="33.6" rx="0" fill="#b3b3b3" opacity="1"/><rect x="581.4" y="316.1" width="23.6" height="33.6" rx="0" fill="#b3b3b3" opacity="1"/><rect x="609.0" y="316.1" width="24.6" height="33.6" rx="0" fill="#b3b3b3" opacity="1"/><rect x="637.6" y="316.1" width="26.4" height="33.6" rx="0" fill="#b3b3b3" opacity="1"/></g>
<g filter="url(#b20)"><ellipse cx="418.2" cy="330.8" rx="11.4" ry="3.0" fill="#8f8f8f" opacity="0.4"/><ellipse cx="446.4" cy="331.0" rx="10.9" ry="3.0" fill="#8f8f8f" opacity="0.4"/><ellipse cx="476.0" cy="331.8" rx="10.9" ry="3.0" fill="#8f8f8f" opacity="0.4"/><ellipse cx="506.6" cy="331.8" rx="11.9" ry="3.0" fill="#8f8f8f" opacity="0.4"/><ellipse cx="535.1" cy="332.4" rx="11.7" ry="3.0" fill="#8f8f8f" opacity="0.4"/><ellipse cx="564.5" cy="332.8" rx="9.9" ry="3.0" fill="#8f8f8f" opacity="0.4"/><ellipse cx="594.2" cy="333.6" rx="10.9" ry="3.0" fill="#8f8f8f" opacity="0.4"/><ellipse cx="622.3" cy="334.3" rx="10.4" ry="3.0" fill="#8f8f8f" opacity="0.4"/><ellipse cx="650.0" cy="334.9" rx="10.4" ry="3.0" fill="#8f8f8f" opacity="0.4"/></g>
<g filter="url(#b04)"><ellipse cx="568.5" cy="322.5" rx="0.8" ry="0.9" fill="#333" opacity="1"/><ellipse cx="538.0" cy="337.3" rx="1.0" ry="0.7" fill="#444" opacity="1"/><ellipse cx="539.2" cy="341.3" rx="0.8" ry="0.9" fill="#444" opacity="1"/><ellipse cx="535.5" cy="340.0" rx="0.5" ry="0.5" fill="#666" opacity="1"/><ellipse cx="562.6" cy="339.9" rx="0.6" ry="0.6" fill="#666" opacity="1"/><ellipse cx="590.8" cy="328.0" rx="0.8" ry="0.8" fill="#e8e8e8" opacity="1"/><ellipse cx="413.5" cy="342.3" rx="0.7" ry="0.8" fill="#555" opacity="1"/><ellipse cx="486.5" cy="323.2" rx="0.5" ry="0.5" fill="#777" opacity="1"/><ellipse cx="573.5" cy="332.6" rx="0.9" ry="0.9" fill="#222" opacity="0.7"/><ellipse cx="667.0" cy="340.0" rx="0.1" ry="0.1" fill="#ccc" opacity="1"/></g>
<rect x="402" y="319.1" width="263.00" height="27.60" filter="url(#grain)" opacity="0.22"/>
<g filter="url(#b09d)"><rect x="407.1" y="328.7" width="22.2" height="4.2" rx="2.1" fill="#1a1a1a" opacity="0.92"/><rect x="435.8" y="328.9" width="21.2" height="4.2" rx="2.1" fill="#1a1a1a" opacity="0.92"/><rect x="465.4" y="329.7" width="21.2" height="4.2" rx="2.1" fill="#1a1a1a" opacity="0.92"/><rect x="495.0" y="329.7" width="23.2" height="4.2" rx="2.1" fill="#1a1a1a" opacity="0.92"/><rect x="523.7" y="330.3" width="22.8" height="4.2" rx="2.1" fill="#1a1a1a" opacity="0.92"/><rect x="554.9" y="330.7" width="19.2" height="4.2" rx="2.1" fill="#1a1a1a" opacity="0.92"/><rect x="583.6" y="331.5" width="21.2" height="4.2" rx="2.1" fill="#1a1a1a" opacity="0.92"/><rect x="612.2" y="332.2" width="20.2" height="4.2" rx="2.1" fill="#1a1a1a" opacity="0.92"/><rect x="639.9" y="332.8" width="20.2" height="4.2" rx="2.1" fill="#1a1a1a" opacity="0.92"/></g>
</g>
<text x="371.50" y="309.68" font-size="9.72" text-anchor="middle" textLength="15.51" lengthAdjust="spacingAndGlyphs" stroke="#1e1e1e" stroke-width="0.18">IL-8</text>
<text x="355.80" y="336.28" font-size="9.72" text-anchor="start" textLength="29.20" lengthAdjust="spacingAndGlyphs" stroke="#1e1e1e" stroke-width="0.18">β- actin</text>
<text x="675.50" y="304.88" font-size="9.72" text-anchor="start" textLength="22.80" lengthAdjust="spacingAndGlyphs" stroke="#1e1e1e" stroke-width="0.18">8 kDa</text>
<text x="672.70" y="332.48" font-size="9.72" text-anchor="start" textLength="28.90" lengthAdjust="spacingAndGlyphs" stroke="#1e1e1e" stroke-width="0.18">43 kDa</text>
<text x="437.50" y="367.78" font-size="9.72" text-anchor="start" textLength="39.90" lengthAdjust="spacingAndGlyphs" stroke="#1e1e1e" stroke-width="0.18">1.0 ± 0.12</text>
<text x="516.30" y="368.28" font-size="9.72" text-anchor="start" textLength="40.40" lengthAdjust="spacingAndGlyphs" stroke="#1e1e1e" stroke-width="0.18">1.4 ± 0.07</text>
<text x="561.40" y="362.70" font-size="9.72" text-anchor="middle" textLength="3.50" lengthAdjust="spacingAndGlyphs" stroke="#1e1e1e" stroke-width="0.18">*</text>
<text x="602.60" y="367.78" font-size="9.72" text-anchor="start" textLength="39.10" lengthAdjust="spacingAndGlyphs" stroke="#1e1e1e" stroke-width="0.18">0.9 ± 0.11</text>
<text x="646.40" y="360.90" font-size="7.99" text-anchor="middle" textLength="4.12" lengthAdjust="spacingAndGlyphs" stroke="#1e1e1e" stroke-width="0.18">#</text>
<text x="370.40" y="455.30" font-size="11.88" text-anchor="start" font-weight="bold" textLength="10.70" lengthAdjust="spacingAndGlyphs" stroke="#1e1e1e" stroke-width="0.25">(f)</text>
<text x="452.10" y="512.98" font-size="9.72" text-anchor="middle" textLength="18.50" lengthAdjust="spacingAndGlyphs" stroke="#1e1e1e" stroke-width="0.18">CTR</text>
<text x="540.00" y="511.98" font-size="9.72" text-anchor="middle" textLength="23.51" lengthAdjust="spacingAndGlyphs" stroke="#1e1e1e" stroke-width="0.18">5/6Nx</text>
<text x="629.00" y="512.28" font-size="9.72" text-anchor="middle" textLength="57.90" lengthAdjust="spacingAndGlyphs" stroke="#1e1e1e" stroke-width="0.18">5/6Nx+PRO20</text>
<line x1="416.70" y1="517.50" x2="488.00" y2="517.50" stroke="#242424" stroke-width="1.1"/>
<line x1="504.30" y1="517.50" x2="575.50" y2="517.50" stroke="#242424" stroke-width="1.1"/>
<line x1="591.20" y1="517.50" x2="661.50" y2="517.50" stroke="#242424" stroke-width="1.1"/>
<clipPath id="cpf1"><rect x="404.9" y="526.4" width="264.40" height="21.30"/></clipPath>
<g clip-path="url(#cpf1)"><rect x="404.9" y="526.4" width="264.40" height="21.30" fill="#c4c4c4"/>
<g filter="url(#b15)"><rect x="406.7" y="523.4" width="31.0" height="27.3" rx="0" fill="#b2b2b2" opacity="1"/><rect x="441.3" y="523.4" width="25.9" height="27.3" rx="0" fill="#b2b2b2" opacity="1"/><rect x="470.8" y="523.4" width="24.1" height="27.3" rx="0" fill="#b2b2b2" opacity="1"/><rect x="498.5" y="523.4" width="23.1" height="27.3" rx="0" fill="#b2b2b2" opacity="1"/><rect x="525.2" y="523.4" width="24.8" height="27.3" rx="0" fill="#b2b2b2" opacity="1"/><rect x="553.6" y="523.4" width="25.0" height="27.3" rx="0" fill="#b2b2b2" opacity="1"/><rect x="582.2" y="523.4" width="25.0" height="27.3" rx="0" fill="#b2b2b2" opacity="1"/><rect x="610.8" y="523.4" width="25.1" height="27.3" rx="0" fill="#b2b2b2" opacity="1"/><rect x="639.5" y="523.4" width="28.0" height="27.3" rx="0" fill="#b2b2b2" opacity="1"/></g>
<g filter="url(#b15)"><ellipse cx="422.2" cy="526.9" rx="13.5" ry="1.6" fill="#8c8c8c" opacity="0.8"/><ellipse cx="454.2" cy="526.9" rx="10.9" ry="1.6" fill="#8c8c8c" opacity="0.8"/><ellipse cx="482.9" cy="526.9" rx="10.0" ry="1.6" fill="#8c8c8c" opacity="0.8"/><ellipse cx="510.1" cy="526.9" rx="9.6" ry="1.6" fill="#8c8c8c" opacity="0.8"/><ellipse cx="537.6" cy="526.9" rx="10.4" ry="1.6" fill="#8c8c8c" opacity="0.8"/><ellipse cx="566.1" cy="526.9" rx="10.5" ry="1.6" fill="#8c8c8c" opacity="0.8"/><ellipse cx="594.7" cy="526.9" rx="10.5" ry="1.6" fill="#8c8c8c" opacity="0.8"/><ellipse cx="623.4" cy="526.9" rx="10.6" ry="1.6" fill="#8c8c8c" opacity="0.8"/><ellipse cx="653.5" cy="526.9" rx="12.0" ry="1.6" fill="#8c8c8c" opacity="0.8"/></g>
<g filter="url(#b09)"><rect x="411.8" y="536.3" width="22.7" height="1.9" rx="0.95" fill="#6a6a6a" opacity="0.8"/><rect x="443.4" y="535.6" width="20.7" height="2.4" rx="1.2" fill="#505050" opacity="0.9"/><rect x="473.0" y="536.0" width="18.8" height="2.1" rx="1.05" fill="#606060" opacity="0.85"/><rect x="499.7" y="535.6" width="22.7" height="2.8" rx="1.4" fill="#222" opacity="0.95"/><rect x="528.3" y="537.0" width="19.5" height="2.4" rx="1.2" fill="#525252" opacity="0.9"/><rect x="555.7" y="535.9" width="21.7" height="2.8" rx="1.4" fill="#222" opacity="0.95"/><rect x="584.3" y="537.0" width="19.7" height="2.4" rx="1.2" fill="#5a5a5a" opacity="0.9"/><rect x="612.0" y="536.6" width="19.7" height="2.3" rx="1.15" fill="#5c5c5c" opacity="0.9"/><rect x="641.6" y="536.7" width="21.7" height="2.2" rx="1.1" fill="#6a6a6a" opacity="0.85"/></g>
<g filter="url(#b09)"><ellipse cx="505.5" cy="536.7" rx="4.5" ry="2.3" fill="#1c1c1c" opacity="0.9"/><ellipse cx="572.5" cy="537.5" rx="4.5" ry="2.4" fill="#1c1c1c" opacity="0.9"/></g>
<rect x="404.9" y="526.4" width="264.40" height="21.30" filter="url(#grain)" opacity="0.22"/>
</g>
<clipPath id="cpf2"><rect x="404.9" y="557.6" width="262.40" height="26.50"/></clipPath>
<g clip-path="url(#cpf2)"><rect x="404.9" y="557.6" width="262.40" height="26.50" fill="#c4c4c4"/>
<g filter="url(#b15)"><rect x="406.7" y="554.6" width="31.0" height="32.5" rx="0" fill="#b4b4b4" opacity="1"/><rect x="441.3" y="554.6" width="25.9" height="32.5" rx="0" fill="#b4b4b4" opacity="1"/><rect x="470.8" y="554.6" width="24.1" height="32.5" rx="0" fill="#b4b4b4" opacity="1"/><rect x="498.5" y="554.6" width="23.1" height="32.5" rx="0" fill="#b4b4b4" opacity="1"/><rect x="525.2" y="554.6" width="24.8" height="32.5" rx="0" fill="#b4b4b4" opacity="1"/><rect x="553.6" y="554.6" width="25.0" height="32.5" rx="0" fill="#b4b4b4" opacity="1"/><rect x="582.2" y="554.6" width="25.0" height="32.5" rx="0" fill="#b4b4b4" opacity="1"/><rect x="610.8" y="554.6" width="25.1" height="32.5" rx="0" fill="#b4b4b4" opacity="1"/><rect x="639.5" y="554.6" width="26.8" height="32.5" rx="0" fill="#b4b4b4" opacity="1"/></g>
<g filter="url(#b20)"><ellipse cx="424.2" cy="564.9" rx="10.2" ry="3.0" fill="#9a9a9a" opacity="0.7"/><ellipse cx="451.4" cy="564.9" rx="10.8" ry="3.0" fill="#9a9a9a" opacity="0.7"/><ellipse cx="481.0" cy="564.9" rx="11.8" ry="3.0" fill="#9a9a9a" opacity="0.7"/><ellipse cx="508.1" cy="566.7" rx="8.4" ry="3.0" fill="#9a9a9a" opacity="0.7"/><ellipse cx="538.1" cy="564.1" rx="11.7" ry="3.0" fill="#9a9a9a" opacity="0.7"/><ellipse cx="566.0" cy="565.1" rx="10.3" ry="3.0" fill="#9a9a9a" opacity="0.7"/><ellipse cx="594.2" cy="564.1" rx="11.8" ry="3.0" fill="#9a9a9a" opacity="0.7"/><ellipse cx="623.4" cy="563.7" rx="11.4" ry="3.0" fill="#9a9a9a" opacity="0.7"/><ellipse cx="652.5" cy="559.7" rx="10.8" ry="3.0" fill="#9a9a9a" opacity="0.7"/></g>
<rect x="404.9" y="557.6" width="262.40" height="26.50" filter="url(#grain)" opacity="0.22"/>
<g filter="url(#b07)"><rect x="412.6" y="567.2" width="23.3" height="10.3" rx="2.8" fill="#141414" transform="rotate(0 424.2 572.3)"/><rect x="439.1" y="567.2" width="24.5" height="11.3" rx="2.8" fill="#141414" transform="rotate(0 451.4 572.8)"/><rect x="467.7" y="567.2" width="26.5" height="11.8" rx="2.8" fill="#141414" transform="rotate(0 481.0 573.1)"/><rect x="498.3" y="569.0" width="19.6" height="9.5" rx="2.8" fill="#141414" transform="rotate(0 508.1 573.8)"/><rect x="525.0" y="566.4" width="26.2" height="11.1" rx="2.8" fill="#141414" transform="rotate(0 538.1 572.0)"/><rect x="554.3" y="567.4" width="23.5" height="10.1" rx="2.8" fill="#141414" transform="rotate(-3 566.0 572.5)"/><rect x="581.0" y="566.4" width="26.4" height="11.7" rx="2.8" fill="#141414" transform="rotate(0 594.2 572.2)"/><rect x="610.6" y="566.0" width="25.5" height="11.5" rx="2.8" fill="#141414" transform="rotate(-4 623.4 571.8)"/><rect x="640.2" y="562.0" width="24.5" height="11.9" rx="2.8" fill="#141414" transform="rotate(0 652.5 568.0)"/><path d="M404 566.3 C408 566.6 411 568.6 415 568.2 L415 572.4 C410 572.6 407 571.2 404 570.6Z" fill="#121212"/></g>
</g>
<text x="356.30" y="541.18" font-size="9.72" text-anchor="start" textLength="27.90" lengthAdjust="spacingAndGlyphs" stroke="#1e1e1e" stroke-width="0.18">TGF-β1</text>
<text x="355.00" y="573.38" font-size="9.72" text-anchor="start" textLength="28.70" lengthAdjust="spacingAndGlyphs" stroke="#1e1e1e" stroke-width="0.18">β- actin</text>
<text x="680.60" y="541.68" font-size="9.72" text-anchor="start" textLength="28.60" lengthAdjust="spacingAndGlyphs" stroke="#1e1e1e" stroke-width="0.18">56 kDa</text>
<text x="680.60" y="569.68" font-size="9.72" text-anchor="start" textLength="28.60" lengthAdjust="spacingAndGlyphs" stroke="#1e1e1e" stroke-width="0.18">43 kDa</text>
<text x="438.00" y="601.38" font-size="9.72" text-anchor="start" textLength="39.60" lengthAdjust="spacingAndGlyphs" stroke="#1e1e1e" stroke-width="0.18">1.0 ± 0.13</text>
<text x="521.30" y="601.38" font-size="9.72" text-anchor="start" textLength="39.40" lengthAdjust="spacingAndGlyphs" stroke="#1e1e1e" stroke-width="0.18">1.9 ± 0.22</text>
<text x="565.80" y="597.00" font-size="9.72" text-anchor="middle" textLength="3.50" lengthAdjust="spacingAndGlyphs" stroke="#1e1e1e" stroke-width="0.18">*</text>
<text x="603.40" y="601.38" font-size="9.72" text-anchor="start" textLength="39.10" lengthAdjust="spacingAndGlyphs" stroke="#1e1e1e" stroke-width="0.18">1.3 ± 0.06</text>
<text x="647.00" y="595.40" font-size="7.99" text-anchor="middle" textLength="4.12" lengthAdjust="spacingAndGlyphs" stroke="#1e1e1e" stroke-width="0.18">#</text>
</svg>
</body></html>
